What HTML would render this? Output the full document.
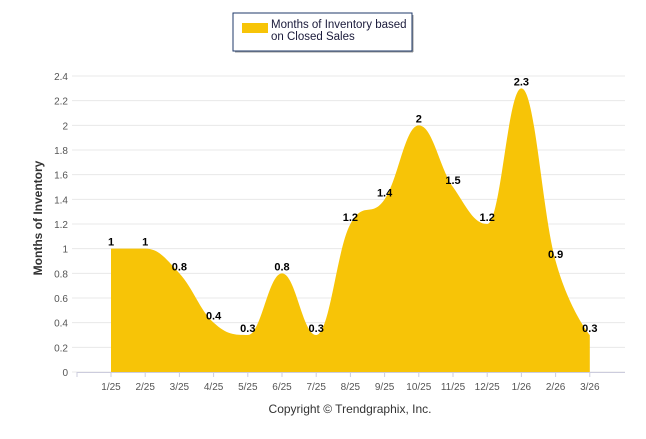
<!DOCTYPE html>
<html><head><meta charset="utf-8"><style>
body{margin:0;background:#fff;font-family:"Liberation Sans",Arial,sans-serif}
svg text{font-family:"Liberation Sans",Arial,sans-serif}
</style></head><body>
<svg id="c" width="646" height="434">
<rect x="233" y="13" width="179" height="38" fill="#fff" stroke="#1f3a6a" stroke-width="1"/>
<line x1="235" y1="52" x2="413" y2="52" stroke="#999" stroke-width="1"/>
<line x1="413" y1="15" x2="413" y2="52" stroke="#999" stroke-width="1"/>
<rect x="242" y="23" width="26" height="10" fill="#f7c407"/>
<text x="271" y="28" font-size="11.5" fill="#1a1a3a"><tspan x="271">Months of Inventory based</tspan><tspan x="271" dy="12">on Closed Sales</tspan></text>
<g id="grid"></g>
<path id="area" fill="#f7c407"/>
<g id="labels"></g>
<text transform="translate(42,218) rotate(-90)" text-anchor="middle" font-size="12" font-weight="bold" fill="#333">Months of Inventory</text>
<text x="350" y="413" text-anchor="middle" font-size="12" fill="#333">Copyright © Trendgraphix, Inc.</text>
</svg>
<script>
const categories=["1/25","2/25","3/25","4/25","5/25","6/25","7/25","8/25","9/25","10/25","11/25","12/25","1/26","2/26","3/26"];
const values=[1,1,0.8,0.4,0.3,0.8,0.3,1.2,1.4,2,1.5,1.2,2.3,0.9,0.3];
const yTicks=[0,0.2,0.4,0.6,0.8,1,1.2,1.4,1.6,1.8,2,2.2,2.4];
const NS="http://www.w3.org/2000/svg";
const x=i=>111+i*34.2, y=v=>372-v*123.33;
const g=document.getElementById('grid'), lb=document.getElementById('labels');
function mk(t,a,p){const e=document.createElementNS(NS,t);for(const k in a)e.setAttribute(k,a[k]);p.appendChild(e);return e;}
yTicks.forEach(v=>{
 const l=mk('line',{x1:72,x2:625,y1:y(v),y2:y(v),stroke:'#e8e8e8'},g);
 
 
 const t=mk('text',{x:68,y:y(v)+4,'text-anchor':'end','font-size':'10',fill:'#555'},g);t.textContent=v;
 
 
});
mk('line',{x1:77,x2:625,y1:372.5,y2:372.5,stroke:'#ccd'},g);
mk('line',{x1:77,x2:77,y1:372,y2:377,stroke:'#ccd'},g);
categories.forEach((c,i)=>{
 mk('line',{x1:x(i),x2:x(i),y1:372,y2:377,stroke:'#ccd'},g);
 const t=mk('text',{x:x(i),y:390,'text-anchor':'middle','font-size':'10',fill:'#555'},g);t.textContent=c;
 
 
});
const P=values.map((v,i)=>[x(i),y(v)]);
function ctrl(i){const s=1.5,d=2.5;const p=P[i],a=P[i-1],b=P[i+1];
 if(!a||!b)return [p,p];
 let lx=(s*p[0]+a[0])/d,ly=(s*p[1]+a[1])/d,rx=(s*p[0]+b[0])/d,ry=(s*p[1]+b[1])/d;
 let corr=0;if(rx!==lx)corr=((ry-ly)*(rx-p[0]))/(rx-lx)+p[1]-ry;
 ly+=corr;ry+=corr;
 if(ly>Math.max(a[1],p[1])||ly<Math.min(a[1],p[1])){ly=Math.max(Math.min(ly,Math.max(a[1],p[1])),Math.min(a[1],p[1]));ry=2*p[1]-ly;}
 if(ry>Math.max(b[1],p[1])||ry<Math.min(b[1],p[1])){ry=Math.max(Math.min(ry,Math.max(b[1],p[1])),Math.min(b[1],p[1]));ly=2*p[1]-ry;}
 return [[lx,ly],[rx,ry]];}
let d=`M${P[0][0]},${y(0)}L${P[0][0]},${P[0][1]}`;
for(let i=1;i<P.length;i++){const c1=ctrl(i-1)[1],c2=ctrl(i)[0];d+=`C${c1[0]},${c1[1]} ${c2[0]},${c2[1]} ${P[i][0]},${P[i][1]}`;}
d+=`L${P[P.length-1][0]},${y(0)}Z`;
document.getElementById('area').setAttribute('d',d);
values.forEach((v,i)=>{
 const t=mk('text',{x:x(i),y:y(v)-3,'text-anchor':'middle','font-size':'11','font-weight':'bold',fill:'#000'},lb);t.textContent=v;
 
 
});
</script>
</body></html>
